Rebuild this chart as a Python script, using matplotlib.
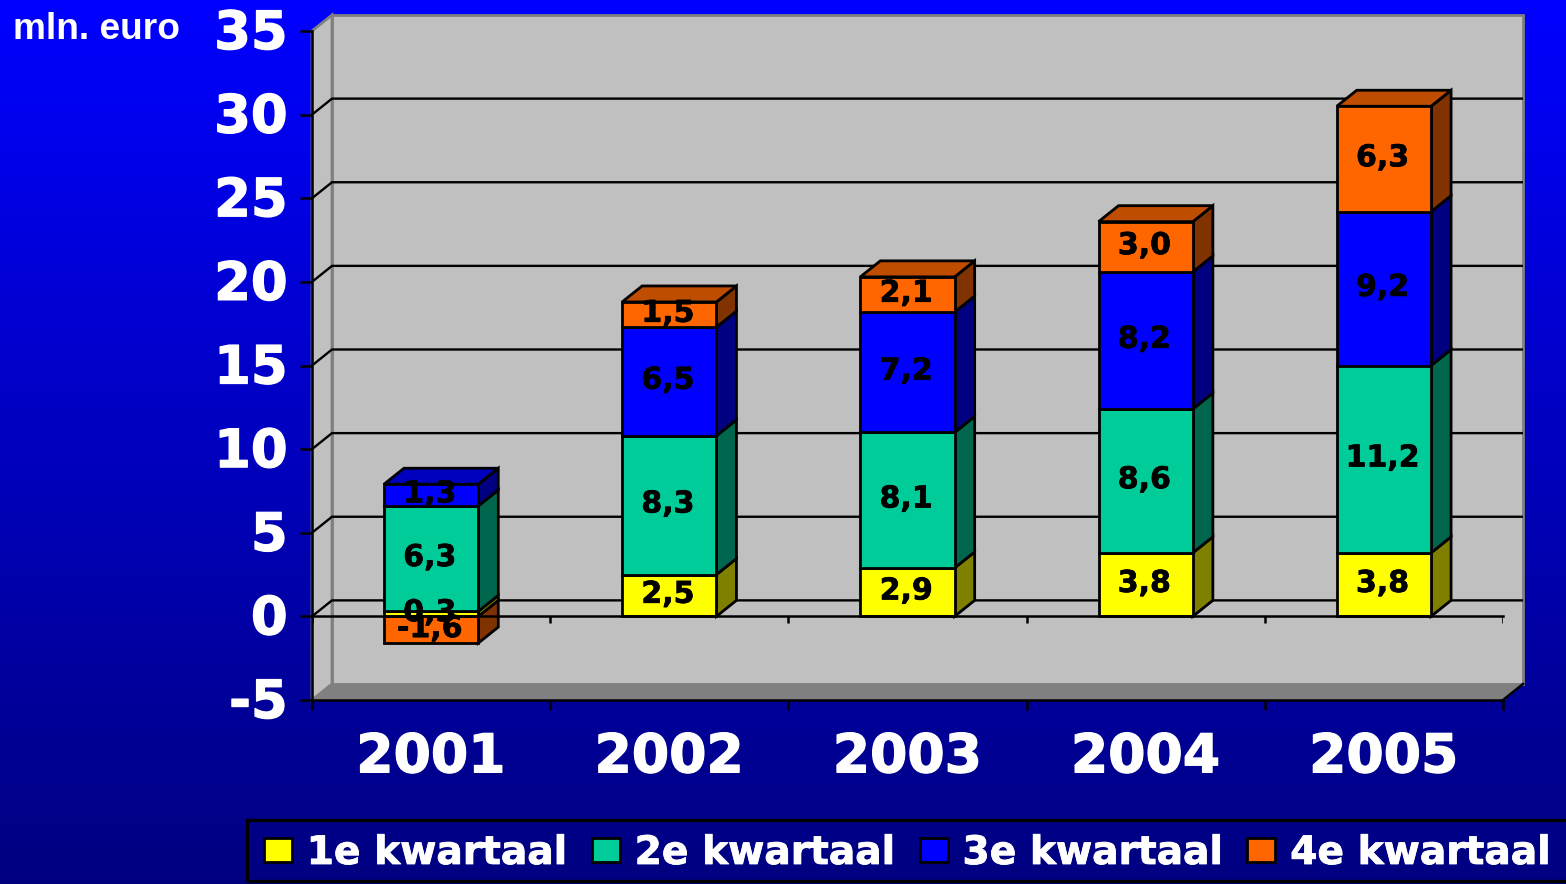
import numpy as np
import matplotlib
matplotlib.use("Agg")
import matplotlib.pyplot as plt
import matplotlib.patheffects as pe
from matplotlib.patches import Polygon, Patch, Rectangle
from matplotlib.transforms import ScaledTranslation

plt.rcParams["axes.unicode_minus"] = False

years = ["2001", "2002", "2003", "2004", "2005"]
series_names = ["1e kwartaal", "2e kwartaal", "3e kwartaal", "4e kwartaal"]
q1 = [0.3, 2.5, 2.9, 3.8, 3.8]
q2 = [6.3, 8.3, 8.1, 8.6, 11.2]
q3 = [1.3, 6.5, 7.2, 8.2, 9.2]
q4 = [-1.6, 1.5, 2.1, 3.0, 6.3]
y_ticks = [-5, 0, 5, 10, 15, 20, 25, 30, 35]

front_cols = ["#FFFF00", "#00CC99", "#0000FF", "#FF6600"]
side_cols = ["#808000", "#00664D", "#000080", "#803300"]
top_cols = ["#BFBF00", "#009973", "#0000BF", "#BF4D00"]

W, H = 1566, 884
fig = plt.figure(figsize=(W / 100, H / 100), dpi=100)

bg = fig.add_axes([0, 0, 1, 1], zorder=-5)
bg.axis("off")
grad = np.zeros((256, 1, 3))
grad[:, 0, 2] = np.linspace(1.0, 0.5, 256)
bg.imshow(grad, aspect="auto", extent=[0, 1, 0, 1])

L, R, T, B = 312, 1503, 31, 700
ax = fig.add_axes([L / W, 1 - B / H, (R - L) / W, (B - T) / H])
ax.patch.set_alpha(0)
ax.set_xlim(0, 5)
ax.set_ylim(-5, 35)
ddx = 20.0 * 5 / (R - L)
ddy = 16.0 * 40 / (B - T)

heavy_w = [pe.withStroke(linewidth=0.9, foreground="white")]
heavy_k = [pe.withStroke(linewidth=0.5, foreground="black")]

# walls and floor
ax.add_patch(Polygon([(ddx, -5 + ddy), (5 + ddx, -5 + ddy), (5 + ddx, 35 + ddy), (ddx, 35 + ddy)],
                     fc="#C0C0C0", ec="#808080", lw=2, clip_on=False, zorder=1))
ax.add_patch(Polygon([(0, -5), (ddx, -5 + ddy), (ddx, 35 + ddy), (0, 35)],
                     fc="#C0C0C0", ec="#808080", lw=2, clip_on=False, zorder=1))
ax.add_patch(Polygon([(0, -5), (5, -5), (5 + ddx, -5 + ddy), (ddx, -5 + ddy)],
                     fc="#808080", ec="#808080", lw=1, clip_on=False, zorder=1))
ax.plot([5, 5 + ddx], [-5, -5 + ddy], color="black", lw=1.8, clip_on=False, zorder=1.5)

# gridlines on walls
for v in y_ticks[1:-1]:
    ax.plot([0, ddx, 5 + ddx - 0.005], [v, v + ddy, v + ddy], color="black", lw=1.7,
            clip_on=False, zorder=2, solid_joinstyle="miter")
ax.plot([0, 5], [0, 0], color="black", lw=1.8, zorder=7, clip_on=False)
ax.vlines(range(6), -0.42, 0, color="black", lw=1.8, zorder=2.5)

width = 0.396
lw = 2.0
series = [q1, q2, q3, q4]
for i, yr in enumerate(years):
    c = i + 0.5
    x0, x1 = c - width / 2, c + width / 2
    pos = 0.0
    segs = []
    for s, vals in enumerate(series):
        v = vals[i]
        if v >= 0:
            segs.append((s, pos, pos + v))
            pos += v
        else:
            segs.append((s, v, 0.0))
    segs.sort(key=lambda t: t[1])
    for s, lo, hi in segs:
        ax.add_patch(Polygon([(x1, lo), (x1 + ddx, lo + ddy), (x1 + ddx, hi + ddy), (x1, hi)],
                             fc=side_cols[s], ec="black", lw=lw, zorder=4, joinstyle="miter"))
    s, lo, hi = segs[-1]
    ax.add_patch(Polygon([(x0, hi), (x1, hi), (x1 + ddx, hi + ddy), (x0 + ddx, hi + ddy)],
                         fc=top_cols[s], ec="black", lw=lw, zorder=4, joinstyle="miter"))
    for s, lo, hi in segs:
        ax.bar(c, hi - lo, width=width, bottom=lo, color=front_cols[s], edgecolor="black",
               linewidth=lw, zorder=5)
    for s, lo, hi in segs:
        ax.annotate(f"{series[s][i]:.1f}".replace(".", ","), xy=(c, (lo + hi) / 2),
                    xytext=(-1, 3), textcoords="offset points", ha="center", va="center_baseline",
                    fontsize=21.6, fontweight="bold", family="DejaVu Sans", color="black", zorder=8,
                    path_effects=heavy_k)

for sp in ["top", "right"]:
    ax.spines[sp].set_visible(False)
for sp in ["left", "bottom"]:
    ax.spines[sp].set_linewidth(1.8)
    ax.spines[sp].set_zorder(3)
ax.set_yticks(y_ticks)
ax.tick_params(axis="y", length=8.6, width=1.8, pad=9, labelcolor="white", labelsize=38)
ax.set_xticks(range(6))
ax.set_xticks([i + 0.5 for i in range(5)], minor=True)
ax.set_xticklabels([])
ax.set_xticklabels(years, minor=True)
ax.tick_params(axis="x", which="major", length=7.5, width=1.8)
ax.tick_params(axis="x", which="minor", length=0, pad=22.6, labelcolor="white", labelsize=38.6)
for t in ax.get_yticklabels() + ax.get_xticklabels(minor=True):
    t.set_fontweight("bold")
    t.set_family("DejaVu Sans")
    t.set_path_effects(heavy_w)
shift = ScaledTranslation(0, -3 / 100, fig.dpi_scale_trans)
for t in ax.get_yticklabels():
    t.set_va("center")
    t.set_transform(t.get_transform() + shift)

fig.text(13 / W, 1 - 39 / H, "mln. euro", color="white", fontsize=26.7, fontweight="bold",
         family="Liberation Sans", ha="left", va="baseline")

# legend box runs off the right edge of the picture, as in the original
fig.add_artist(Rectangle((247 / W, 1 - 881 / H), (1600 - 247) / W, 61 / H, transform=fig.transFigure,
                         fc="none", ec="black", lw=2.4))
handles = [Patch(fc=c, ec="black", lw=2) for c in front_cols]
leg = fig.legend(handles, series_names, ncol=4, loc="center left",
                 bbox_to_anchor=(264 / W, 1 - 853 / H), bbox_transform=fig.transFigure,
                 frameon=False, borderaxespad=0, borderpad=0, handlelength=0.71, handleheight=0.56,
                 handletextpad=0.38, columnspacing=0.645,
                 prop={"family": "DejaVu Sans", "weight": "bold", "size": 28.2})
for t in leg.get_texts():
    t.set_color("white")
    t.set_path_effects([pe.withStroke(linewidth=0.6, foreground="white")])

fig.savefig("out.png", dpi=100)
